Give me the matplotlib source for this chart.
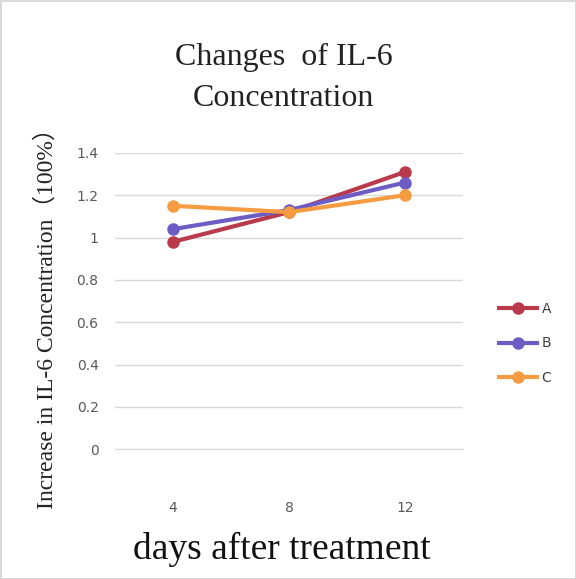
import matplotlib.pyplot as plt

days = ['4', '8', '12']
series_a = [0.98, 1.12, 1.31]
series_b = [1.04, 1.13, 1.26]
series_c = [1.15, 1.12, 1.20]
yticks = [0, 0.2, 0.4, 0.6, 0.8, 1, 1.2, 1.4]
ytick_labels = ['0', '0.2', '0.4', '0.6', '0.8', '1', '1.2', '1.4']

fig = plt.figure(figsize=(5.76, 5.79), dpi=100)
fig.patch.set_edgecolor('#d9d9d9')
fig.patch.set_linewidth(2)
ax = fig.add_axes([0.2, 0.224, 0.604, 0.512])

x = range(len(days))
ax.plot(x, series_a, color='#b83a4b', marker='o', markersize=8, linewidth=3, label='A')
ax.plot(x, series_b, color='#6d5cc4', marker='o', markersize=8, linewidth=3, label='B')
ax.plot(x, series_c, color='#f59b42', marker='o', markersize=8, linewidth=3, label='C')

ax.set_xlim(-0.5, 2.5)
ax.set_ylim(0, 1.4)
ax.set_xticks(list(x))
ax.set_xticklabels(days)
ax.set_yticks(yticks)
ax.set_yticklabels(ytick_labels)
ax.tick_params(length=0, labelcolor='#595959', labelsize=10)
ax.tick_params(axis='x', pad=37)
ax.tick_params(axis='y', pad=12)
ax.grid(axis='y', color='#d9d9d9', linewidth=1)
ax.set_axisbelow(True)
for s in ['top', 'right', 'left']:
    ax.spines[s].set_visible(False)
ax.spines['bottom'].set_color('#d9d9d9')

ax.set_title('Changes  of IL-6\nConcentration', family='Liberation Serif',
             fontsize=23, pad=34, color='#222222', linespacing=1.55, x=0.485)
ax.set_xlabel('days after treatment', family='Liberation Serif', fontsize=27,
              color='#111111')
ax.xaxis.set_label_coords(0.48, -0.28)
ax.set_ylabel('Increase in IL-6 Concentration\uff08100%\uff09',
              family=['Liberation Serif', 'Noto Sans CJK SC'], fontsize=17,
              color='#222222')
ax.yaxis.set_label_coords(-0.165, 0.46)

ax.legend(loc='center left', bbox_to_anchor=(1.066, 0.357), frameon=False,
          fontsize=10, handlelength=2.8, labelspacing=1.5, handletextpad=0.3,
          labelcolor='#404040')

fig.savefig('out.png', dpi=100, edgecolor=fig.get_edgecolor())
